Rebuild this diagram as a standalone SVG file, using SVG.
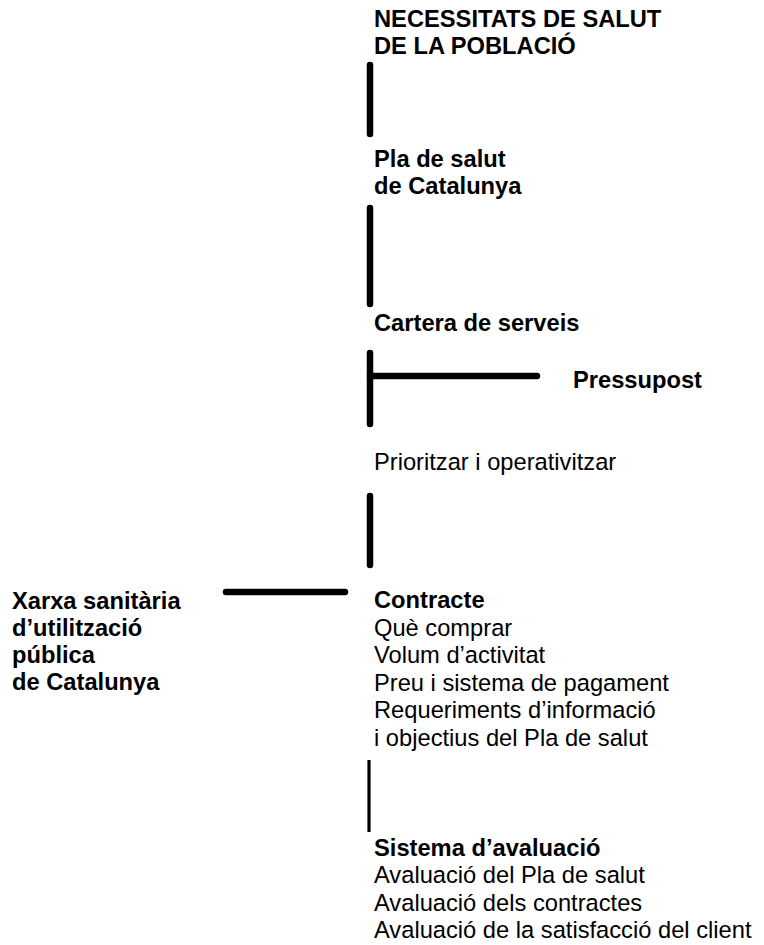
<svg xmlns="http://www.w3.org/2000/svg" width="764" height="945" viewBox="0 0 764 945">
<style>
text { font-family: "Liberation Sans", Arial, sans-serif; font-size: 23.7px; fill: #000; }
.b { font-weight: bold; }
.c { stroke: #000; stroke-width: 6.5; stroke-linecap: round; fill: none; }
.t { stroke: #000; stroke-width: 3.2; fill: none; }
</style>
<rect width="764" height="945" fill="#fff"/>
<g id="connectors">
<line class="c" x1="370" y1="65" x2="370" y2="134"/>
<line class="c" x1="370" y1="208" x2="370" y2="304"/>
<line class="c" x1="370" y1="353" x2="370" y2="424"/>
<line class="c" x1="370" y1="376" x2="537" y2="376"/>
<line class="c" x1="370" y1="496" x2="370" y2="565"/>
<line class="c" x1="226" y1="592" x2="345" y2="592"/>
<line class="t" x1="369" y1="760" x2="369" y2="832"/>
</g>
<g id="necessitats">
<text class="b" x="374" y="26.5">NECESSITATS DE SALUT</text>
<text class="b" x="374" y="53.5">DE LA POBLACIÓ</text>
</g>
<g id="pla-salut">
<text class="b" x="374" y="166.5">Pla de salut</text>
<text class="b" x="374" y="193.5">de Catalunya</text>
</g>
<g id="cartera">
<text class="b" x="374" y="331">Cartera de serveis</text>
</g>
<g id="pressupost">
<text class="b" x="573" y="388">Pressupost</text>
</g>
<g id="prioritzar">
<text x="374" y="470">Prioritzar i operativitzar</text>
</g>
<g id="xarxa">
<text class="b" x="12" y="609">Xarxa sanitària</text>
<text class="b" x="12" y="636">d’utilització</text>
<text class="b" x="12" y="663">pública</text>
<text class="b" x="12" y="690">de Catalunya</text>
</g>
<g id="contracte">
<text class="b" x="374" y="608">Contracte</text>
<text x="374" y="635.5">Què comprar</text>
<text x="374" y="663">Volum d’activitat</text>
<text x="374" y="690.5">Preu i sistema de pagament</text>
<text x="374" y="718">Requeriments d’informació</text>
<text x="374" y="745.5">i objectius del Pla de salut</text>
</g>
<g id="avaluacio">
<text class="b" x="374" y="856">Sistema d’avaluació</text>
<text x="374" y="883">Avaluació del Pla de salut</text>
<text x="374" y="910.5">Avaluació dels contractes</text>
<text x="374" y="938">Avaluació de la satisfacció del client</text>
</g>
</svg>
